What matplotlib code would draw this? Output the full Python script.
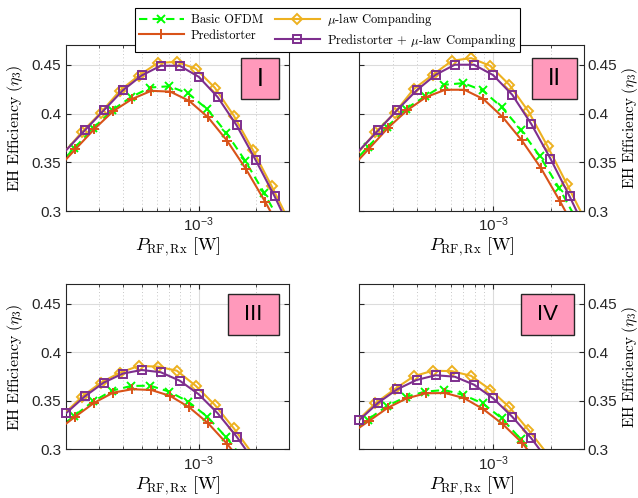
import numpy as np
import matplotlib
matplotlib.use("Agg")
import matplotlib.pyplot as plt
from matplotlib.patches import Rectangle
from matplotlib.lines import Line2D

plt.rcParams['font.family'] = ['Liberation Sans', 'DejaVu Sans']
plt.rcParams['mathtext.fontset'] = 'cm'
plt.rcParams['axes.unicode_minus'] = False

# log10 of received RF power [W]; first/last entries are line-only ends
x_basic = [-3.7, -3.655, -3.555, -3.455, -3.355, -3.255, -3.155, -3.055, -2.955, -2.855, -2.755, -2.655, -2.555]
x_pred = [-3.7, -3.65, -3.55, -3.45, -3.35, -3.25, -3.15, -3.05, -2.95, -2.85, -2.75, -2.65, -2.55]
x_mu = [-3.7, -3.615, -3.515, -3.415, -3.315, -3.215, -3.115, -3.015, -2.915, -2.815, -2.715, -2.615, -2.515]
x_both = [-3.7, -3.6, -3.5, -3.4, -3.3, -3.2, -3.1, -3.0, -2.9, -2.8, -2.7, -2.6, -2.5]

# EH efficiency, panel I
basic_I = [0.355, 0.3645, 0.385, 0.4035, 0.417, 0.4267, 0.428, 0.4206, 0.4045, 0.3805, 0.3515, 0.3185, 0.283]
pred_I = [0.3527, 0.3632, 0.384, 0.4025, 0.415, 0.4233, 0.4225, 0.413, 0.396, 0.372, 0.3427, 0.3095, 0.274]
mu_I = [0.362, 0.381, 0.401, 0.4235, 0.439, 0.452, 0.453, 0.446, 0.4265, 0.3977, 0.3627, 0.3252, 0.286]
both_I = [0.362, 0.3827, 0.4032, 0.4237, 0.4391, 0.449, 0.449, 0.4377, 0.4169, 0.3878, 0.3523, 0.315, 0.274]

# panel II
basic_II = [0.356, 0.3655, 0.386, 0.405, 0.4176, 0.4295, 0.4312, 0.4237, 0.4066, 0.3834, 0.356, 0.3236, 0.288]
pred_II = [0.353, 0.3636, 0.3851, 0.4032, 0.4169, 0.4244, 0.4244, 0.4148, 0.3964, 0.3725, 0.3441, 0.3099, 0.274]
mu_II = [0.361, 0.3807, 0.4005, 0.4251, 0.4398, 0.4541, 0.4569, 0.449, 0.4295, 0.4022, 0.3663, 0.328, 0.289]
both_II = [0.362, 0.3827, 0.4039, 0.4237, 0.4398, 0.4501, 0.4501, 0.4395, 0.4193, 0.3892, 0.3537, 0.315, 0.274]

# panel III
basic_III = [0.3275, 0.3345, 0.3495, 0.3605, 0.3653, 0.3655, 0.3594, 0.3491, 0.3336, 0.3124, 0.2875]
pred_III = [0.3262, 0.3336, 0.348, 0.3584, 0.3619, 0.3611, 0.355, 0.3433, 0.3268, 0.3055, 0.281]
mu_III = [0.338, 0.3542, 0.3687, 0.379, 0.3859, 0.3852, 0.381, 0.3653, 0.3457, 0.3216, 0.295]
both_III = [0.3369, 0.3545, 0.3687, 0.378, 0.3817, 0.3794, 0.3707, 0.3567, 0.3371, 0.313, 0.2855]

# panel IV
basic_IV = [0.3235, 0.3305, 0.3445, 0.354, 0.3594, 0.3611, 0.356, 0.3474, 0.332, 0.3103, 0.286]
pred_IV = [0.3222, 0.329, 0.3428, 0.3526, 0.3577, 0.358, 0.3526, 0.3412, 0.326, 0.307, 0.2825]
mu_IV = [0.331, 0.3474, 0.3619, 0.3752, 0.381, 0.3805, 0.3757, 0.3615, 0.3434, 0.3199, 0.295]
both_IV = [0.33, 0.348, 0.3619, 0.3714, 0.3763, 0.3748, 0.3666, 0.3526, 0.3336, 0.3113, 0.285]

panel_names = ["I", "II", "III", "IV"]
labels = ["Basic OFDM", "Predistorter", r"$\mu$-law Companding",
          r"Predistorter + $\mu$-law Companding"]
colors = ["#00ff00", "#d95319", "#edb120", "#7e2f8e"]
markers = ["x", "+", "D", "s"]
msizes = [5.5, 7, 5, 6]
styles = [(0, (4, 2.5)), "-", "-", "-"]

serif = "cmr10"
gridc = "#dcdcdc"
axc = "#262626"
ylab = r"$\mathrm{EH\ Efficiency}\ (\eta_3)$"

fig = plt.figure(figsize=(6.38, 4.98), dpi=100)
rects = [[0.1034, 0.5763, 0.3500, 0.3327],
         [0.5632, 0.5763, 0.3527, 0.3327],
         [0.1034, 0.0978, 0.3500, 0.3313],
         [0.5632, 0.0978, 0.3527, 0.3313]]
boxes = [(0.782, 0.676, 0.172, 0.246), (0.766, 0.676, 0.200, 0.246),
         (0.725, 0.695, 0.227, 0.244), (0.717, 0.695, 0.237, 0.244)]
box_fs = [18, 17, 16, 16]

data = [[basic_I, pred_I, mu_I, both_I],
        [basic_II, pred_II, mu_II, both_II],
        [basic_III, pred_III, mu_III, both_III],
        [basic_IV, pred_IV, mu_IV, both_IV]]
xs_all = [x_basic, x_pred, x_mu, x_both]

for i in range(4):
    ax = fig.add_axes(rects[i])
    ax.set_xscale("log")
    ax.set_axisbelow(True)
    for k in range(4):
        ye = data[i][k]
        xe = xs_all[k][:len(ye)]
        xv = 10.0 ** np.array(xe)
        ax.plot(xv, ye, linestyle=styles[k], color=colors[k], lw=1.5, zorder=2 + k)
        # purple starts right at the left edge in the lower panels
        first = 0 if (k == 3 and i >= 2) else 1
        ax.plot(xv[first:-1], ye[first:-1], linestyle="none", marker=markers[k],
                ms=msizes[k], mfc="none", mec=colors[k], mew=1.4,
                clip_on=False, zorder=2 + k)
    ax.set_xlim(2e-4, 3e-3)
    ax.set_ylim(0.3, 0.47)
    ax.set_yticks([0.3, 0.35, 0.4, 0.45])
    ax.set_yticklabels(["0.3", "0.35", "0.4", "0.45"])
    ax.grid(True, which="major", color=gridc, lw=0.8)
    ax.grid(True, which="minor", axis="x", color="#c8c8c8", lw=0.7, linestyle=(0, (1, 2.5)))
    ax.tick_params(which="both", direction="in", colors=axc, labelsize=11,
                   top=True, right=True)
    ax.tick_params(which="major", length=3.5)
    ax.tick_params(which="minor", length=2)
    for s in ax.spines.values():
        s.set_color(axc)
        s.set_linewidth(0.8)
    ax.set_xlabel(r"$P_{\rm RF,Rx}\ [\mathrm{W}]$", fontsize=13, labelpad=1)
    if i % 2 == 1:
        ax.yaxis.tick_right()
        ax.yaxis.set_label_position("right")
        ax.tick_params(which="both", left=True, labelleft=False, labelright=True)
        ax.tick_params(axis="y", pad=2.5)
        ax.set_ylabel(ylab, fontsize=11, labelpad=1.5)
    else:
        ax.set_ylabel(ylab, fontsize=11.5, labelpad=5)
    bx, by, bw, bh = boxes[i]
    ax.add_patch(Rectangle((bx, by), bw, bh, transform=ax.transAxes,
                           facecolor="#ff99bb", edgecolor=axc, lw=1, zorder=10))
    ax.text(bx + bw / 2, by + bh / 2, panel_names[i], transform=ax.transAxes,
            ha="center", va="center", fontsize=box_fs[i], color="black", zorder=11)

handles = [Line2D([], [], color=colors[k], linestyle=styles[k], lw=1.5,
                  marker=markers[k], ms=msizes[k], mfc="none", mew=1.4)
           for k in range(4)]
leg = fig.legend(handles, labels, ncol=2, loc="upper center",
                 bbox_to_anchor=(0.5133, 0.9833), prop={"family": serif, "size": 9},
                 frameon=True, fancybox=False, edgecolor="black", framealpha=1,
                 handlelength=3.6, handletextpad=0.6, columnspacing=0.9,
                 labelspacing=0.25, borderpad=0.25, borderaxespad=0)
leg.get_frame().set_linewidth(0.8)

fig.savefig("out.png", dpi=100)
